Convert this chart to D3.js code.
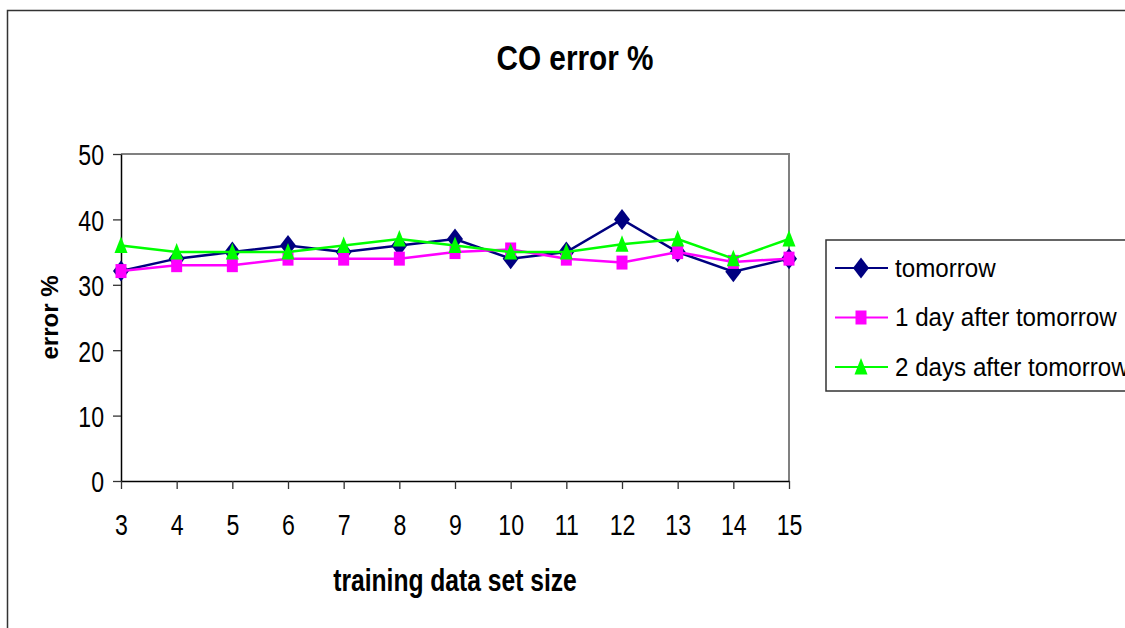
<!DOCTYPE html>
<html>
<head>
<meta charset="utf-8">
<script src="https://cdn.jsdelivr.net/npm/d3@7"></script>
<style>
  html, body { margin: 0; padding: 0; background: #fff; }
  svg { display: block; font-family: "Liberation Sans", Arial, sans-serif; }
</style>
</head>
<body>
<div id="chart"></div>
<script>
// --- Data ---
const trainingSizes = [3, 4, 5, 6, 7, 8, 9, 10, 11, 12, 13, 14, 15];
const tomorrow = [32.1, 34, 35, 36, 35, 36, 37, 34, 35, 40, 35, 32, 34];
const oneDayAfter = [32.1, 33, 33, 34, 34, 34, 35, 35.4, 34, 33.4, 35, 33.5, 34];
const twoDaysAfter = [36, 35, 35, 35, 36, 37, 36, 35, 35, 36.2, 37, 34, 37];
const seriesNames = ["tomorrow", "1 day after tomorrow", "2 days after tomorrow"];
const yTicks = [0, 10, 20, 30, 40, 50];

const series = [
    { name: seriesNames[0], values: tomorrow, color: "#000080", marker: "diamond" },
    { name: seriesNames[1], values: oneDayAfter, color: "#ff00ff", marker: "square" },
    { name: seriesNames[2], values: twoDaysAfter, color: "#00ff00", marker: "triangle" }
];

// --- Setup ---
const W = 1125, H = 628;
const plot = { left: 121, right: 789, top: 154, bottom: 481 };

const svg = d3.select("#chart").append("svg")
    .attr("width", W)
    .attr("height", H);

// outer chart border (runs off the right/bottom edge)
svg.append("rect")
    .attr("x", 7.5).attr("y", 10.5)
    .attr("width", 1200).attr("height", 700)
    .attr("fill", "#fff")
    .attr("stroke", "#333").attr("stroke-width", 1.5);

const x = d3.scaleLinear().domain([3, 15]).range([plot.left, plot.right]);
const y = d3.scaleLinear().domain([0, 50]).range([plot.bottom, plot.top]);

// squeeze text horizontally (source chart font is condensed)
function squeeze(sel, sx) {
    sel.each(function () {
        const t = d3.select(this);
        const tx = +t.attr("x") || 0;
        t.attr("x", tx / sx).attr("transform", `scale(${sx},1)`);
    });
}

// plot frame: gray top/right
svg.append("path")
    .attr("d", `M${plot.left},${plot.top}H${plot.right}V${plot.bottom}`)
    .attr("fill", "none")
    .attr("stroke", "#808080")
    .attr("stroke-width", 2);

// --- Axes ---
const yAxis = svg.append("g")
    .attr("transform", `translate(${plot.left},0)`)
    .call(d3.axisLeft(y).tickValues(yTicks).tickSize(8).tickPadding(9).tickSizeOuter(0));

const xAxis = svg.append("g")
    .attr("transform", `translate(0,${plot.bottom})`)
    .call(d3.axisBottom(x).tickValues(trainingSizes).tickFormat(d3.format("d")).tickSize(8).tickSizeOuter(0));

[yAxis, xAxis].forEach(g => {
    g.select(".domain").attr("stroke", "#000").attr("stroke-width", 1.5);
    g.selectAll(".tick line").attr("stroke", "#333").attr("stroke-width", 1.3);
    g.selectAll(".tick text")
        .attr("fill", "#000")
        .style("font-family", "'Liberation Sans', Arial, sans-serif")
        .style("font-size", "30px");
});
yAxis.selectAll(".tick text").attr("dy", "0.36em");
xAxis.selectAll(".tick text").attr("y", 54).attr("dy", 0);
squeeze(yAxis.selectAll(".tick text"), 0.77);
squeeze(xAxis.selectAll(".tick text"), 0.77);

// --- Markers ---
function markerPath(type) {
    if (type === "diamond") return "M0,-10.5L8,0L0,10.5L-8,0Z";
    if (type === "square") return "M-5.5,-7H5.5V7H-5.5Z";
    return "M0,-9L6.5,7.5H-6.5Z";
}

const line = d3.line()
    .x((d, i) => x(trainingSizes[i]))
    .y(d => y(d));

series.forEach(s => {
    const g = svg.append("g");
    g.append("path")
        .datum(s.values)
        .attr("d", line)
        .attr("fill", "none")
        .attr("stroke", s.color)
        .attr("stroke-width", 2.5);
    g.selectAll("path.mark")
        .data(s.values)
        .join("path")
        .attr("class", "mark")
        .attr("transform", (d, i) => `translate(${x(trainingSizes[i])},${y(d)})`)
        .attr("d", markerPath(s.marker))
        .attr("fill", s.color);
});

// --- Titles ---
svg.append("text")
    .attr("x", 575).attr("y", 70)
    .attr("text-anchor", "middle")
    .style("font-weight", "bold")
    .style("font-size", "35px")
    .text("CO error %")
    .call(squeeze, 0.85);

svg.append("text")
    .attr("x", (plot.left + plot.right) / 2).attr("y", 591)
    .attr("text-anchor", "middle")
    .style("font-weight", "bold")
    .style("font-size", "32px")
    .text("training data set size")
    .call(squeeze, 0.77);

svg.append("text")
    .attr("transform", `translate(58,${(plot.top + plot.bottom) / 2}) rotate(-90)`)
    .attr("text-anchor", "middle")
    .style("font-weight", "bold")
    .style("font-size", "24px")
    .text("error %");

// --- Legend ---
const legend = svg.append("g");
legend.append("rect")
    .attr("x", 826).attr("y", 240)
    .attr("width", 400).attr("height", 151)
    .attr("fill", "#fff")
    .attr("stroke", "#333").attr("stroke-width", 1.5);

const rowY = d3.scalePoint().domain(seriesNames).range([268, 367]);

series.forEach(s => {
    const ry = rowY(s.name);
    legend.append("line")
        .attr("x1", 835).attr("x2", 888)
        .attr("y1", ry).attr("y2", ry)
        .attr("stroke", s.color).attr("stroke-width", 2.2);
    legend.append("path")
        .attr("transform", `translate(861,${ry})`)
        .attr("d", markerPath(s.marker))
        .attr("fill", s.color);
    legend.append("text")
        .attr("x", 895).attr("y", ry + 9)
        .style("font-size", "26px")
        .text(s.name)
        .call(squeeze, 0.93);
});
</script>
</body>
</html>
